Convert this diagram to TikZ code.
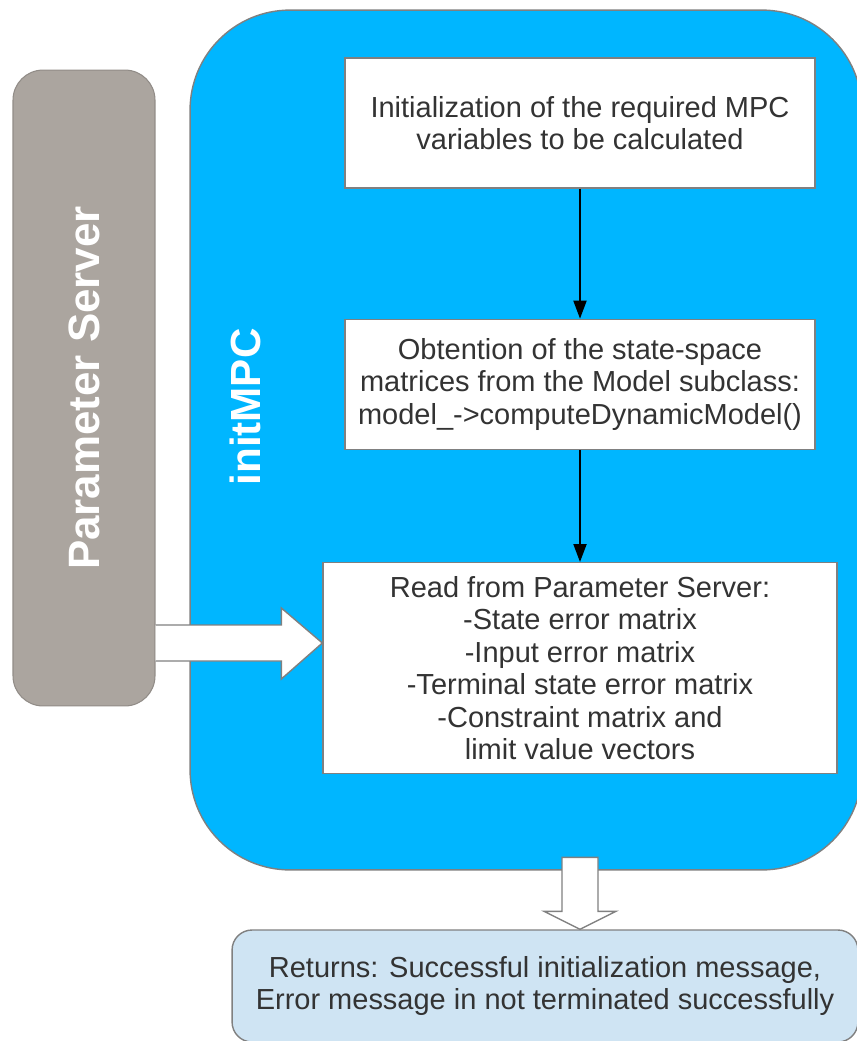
\documentclass[tikz,border=0pt]{standalone}
\usepackage{fontspec}
\setmainfont{Liberation Sans}
\usetikzlibrary{arrows.meta, positioning, calc}
\definecolor{mpcblue}{RGB}{0,182,255}
\definecolor{servgray}{RGB}{171,165,159}
\definecolor{retblue}{RGB}{207,228,243}
\definecolor{edgegray}{RGB}{128,128,128}
\tikzset{
    txt/.style={font=\fontsize{16.5}{18.5}\selectfont, text=black!80, align=center},
    stepbox/.style={txt, draw=edgegray, line width=0.8pt, fill=white, minimum width=9.4cm, minimum height=2.6cm},
    title/.style={font=\fontsize{25}{30}\selectfont\bfseries, text=white, rotate=90},
    blockarrow/.style={draw=edgegray, line width=0.8pt, fill=white},
    flow/.style={-{Triangle[length=3.6mm, width=2.6mm]}, line width=1.1pt},
}

\begin{document}
\begin{tikzpicture}[x=0.02cm, y=-0.02cm]
    \tikzset{
      node distance=2.6cm
    }
    \useasboundingbox (0,0) rectangle (856,1041);
    \fill[white] (0,0) rectangle (856,1041);

    \node[draw=edgegray, line width=0.8pt, fill=mpcblue, rounded corners=2cm, minimum width=13.44cm, minimum height=17.2cm] (mpc) at (526,440) {};
    \node[draw=servgray!85!black, line width=0.6pt, fill=servgray, rounded corners=0.6cm, minimum width=2.84cm, minimum height=12.72cm] (ps) at (84,388) {};
    \node[title] (pslabel) at (ps) {Parameter Server};
    \node[title, font=\fontsize{24}{28}\selectfont\bfseries] (mpclabel) at (245,407) {initMPC};

    \node[stepbox] (s1) at (580,123) {Initialization of the required MPC\\variables to be calculated};
    \node[stepbox, below=of s1] (s2) {Obtention of the state-space\\matrices from the Model subclass:\\model\_->computeDynamicModel()};
    \node[stepbox, below=2.24cm of s2, minimum width=10.28cm, minimum height=4.22cm] (s3) {Read from Parameter Server:\\-State error matrix\\-Input error matrix\\-Terminal state error matrix\\-Constraint matrix and\\limit value vectors};

    \draw[flow] (s1) -- (s2);
    \draw[flow] (s2) -- (s3);

    \node[txt, draw=edgegray, line width=0.8pt, fill=retblue, rounded corners=0.4cm, minimum width=12.52cm, minimum height=2.24cm] (ret) at (545,986) {Returns: Successful initialization message,\\Error message in not terminated successfully};

    \coordinate (rtip) at (s3.west |- 0,643);
    \coordinate (dtip) at (s3.south |- ret.north);

    \draw[blockarrow] (ps.east |- 0,625) -- ($(rtip)+(-41,-18)$) -- ($(rtip)+(-41,-35)$) -- (rtip) -- ($(rtip)+(-41,36)$) -- ($(rtip)+(-41,18)$) -- (ps.east |- 0,661);
    \draw[blockarrow] ($(dtip)+(-18,-72)$) -- ($(dtip)+(-18,-18)$) -- ($(dtip)+(-36,-18)$) -- (dtip) -- ($(dtip)+(36,-18)$) -- ($(dtip)+(18,-18)$) -- ($(dtip)+(18,-72)$) -- cycle;

  \end{tikzpicture}
\end{document}
